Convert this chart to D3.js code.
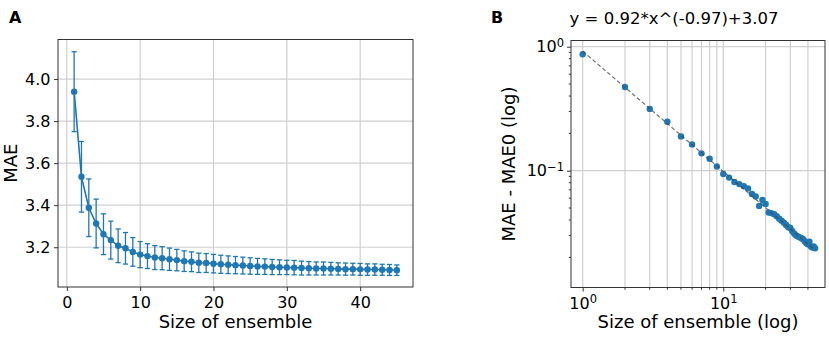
<!DOCTYPE html>
<html>
<head>
<meta charset="utf-8">
<script src="https://cdn.jsdelivr.net/npm/d3@7"></script>
<style>
    body { margin: 0; background: #fff; }
    svg { display: block; font-family: "DejaVu Sans", sans-serif; }
    .grid line { stroke: #d0d0d0; stroke-width: 1.2; }
    .axis path { display: none; }
    .axis line { stroke: #333; stroke-width: 1; }
    .axis text { font-size: 16px; fill: #000; font-family: "DejaVu Sans", sans-serif; }
    .frame { fill: none; stroke: #333; stroke-width: 1; }
    .label { font-size: 18px; fill: #000; }
    .panel { font-size: 16px; font-weight: bold; fill: #000; }
</style>
</head>
<body>
<svg id="chart" width="829" height="340"></svg>
<script>
// ensemble sizes (x for both panels)
const ensembleSize = [1, 2, 3, 4, 5, 6, 7, 8, 9, 10, 11, 12, 13, 14, 15, 16, 17, 18, 19, 20,
    21, 22, 23, 24, 25, 26, 27, 28, 29, 30, 31, 32, 33, 34, 35, 36, 37, 38, 39, 40,
    41, 42, 43, 44, 45];

// panel A: mean MAE and its error bar half-length
const maeMean = [3.940, 3.535, 3.388, 3.313, 3.262, 3.234, 3.207, 3.195, 3.178, 3.165,
    3.158, 3.151, 3.148, 3.143, 3.139, 3.134, 3.131, 3.126, 3.125, 3.122,
    3.119, 3.117, 3.115, 3.113, 3.111, 3.109, 3.108, 3.106, 3.105, 3.104,
    3.103, 3.101, 3.100, 3.099, 3.099, 3.098, 3.097, 3.096, 3.096, 3.095,
    3.094, 3.094, 3.093, 3.092, 3.091];
const maeErr = [0.190, 0.168, 0.137, 0.116, 0.097, 0.090, 0.080, 0.075, 0.068, 0.062,
    0.059, 0.057, 0.055, 0.053, 0.051, 0.049, 0.047, 0.046, 0.045, 0.044,
    0.043, 0.042, 0.041, 0.040, 0.039, 0.038, 0.037, 0.036, 0.035, 0.034,
    0.034, 0.033, 0.032, 0.031, 0.031, 0.030, 0.029, 0.029, 0.028, 0.028,
    0.027, 0.027, 0.026, 0.026, 0.025];

// panel B: MAE - MAE0 on log-log axes
const maeDiff = [0.869, 0.473, 0.315, 0.248, 0.189, 0.163, 0.138, 0.125, 0.108, 0.094,
    0.088, 0.081, 0.078, 0.075, 0.072, 0.065, 0.062, 0.052, 0.058, 0.054,
    0.046, 0.0455, 0.0445, 0.043, 0.041, 0.0395, 0.038, 0.0365, 0.035, 0.0345,
    0.0325, 0.031, 0.030, 0.0295, 0.029, 0.0285, 0.028, 0.027, 0.026, 0.0255,
    0.0267, 0.0245, 0.024, 0.0245, 0.0237];
const fitX = [1, 45];
const fitY = [0.92, 0.0229];
const fitTitle = 'y = 0.92*x^(-0.97)+3.07';

// ticks
const aXTicks = [0, 10, 20, 30, 40];
const aYTicks = [3.2, 3.4, 3.6, 3.8, 4.0];
const bXTicks = [1, 10];
const bXMinor = [2, 3, 4, 5, 6, 7, 8, 9, 20, 30, 40];
const bYTicks = [0.1, 1];
const bYMinor = [0.02, 0.03, 0.04, 0.05, 0.06, 0.07, 0.08, 0.09,
    0.2, 0.3, 0.4, 0.5, 0.6, 0.7, 0.8, 0.9];

const blue = '#1f77b4';
const svg = d3.select('#chart');

// ---------- panel A ----------
const a = {left: 58, right: 413, top: 39.5, bottom: 287};
const ax = d3.scaleLinear().domain([-1.2, 47.2]).range([a.left, a.right]);
const ay = d3.scaleLinear().domain([3.011, 4.188]).range([a.bottom, a.top]);

const gA = svg.append('g');

gA.append('g').attr('class', 'grid')
    .selectAll('line.v').data(aXTicks).join('line')
    .attr('x1', d => ax(d)).attr('x2', d => ax(d))
    .attr('y1', a.top).attr('y2', a.bottom);
gA.append('g').attr('class', 'grid')
    .selectAll('line.h').data(aYTicks).join('line')
    .attr('x1', a.left).attr('x2', a.right)
    .attr('y1', d => ay(d)).attr('y2', d => ay(d));

const pts = ensembleSize.map((x, i) => ({x: x, m: maeMean[i], e: maeErr[i]}));

const err = gA.append('g').attr('stroke', blue).attr('stroke-width', 1.3);
err.selectAll('line.bar').data(pts).join('line')
    .attr('x1', d => ax(d.x)).attr('x2', d => ax(d.x))
    .attr('y1', d => ay(d.m - d.e)).attr('y2', d => ay(d.m + d.e));
err.selectAll('line.capTop').data(pts).join('line')
    .attr('x1', d => ax(d.x) - 2.6).attr('x2', d => ax(d.x) + 2.6)
    .attr('y1', d => ay(d.m + d.e)).attr('y2', d => ay(d.m + d.e));
err.selectAll('line.capBot').data(pts).join('line')
    .attr('x1', d => ax(d.x) - 2.6).attr('x2', d => ax(d.x) + 2.6)
    .attr('y1', d => ay(d.m - d.e)).attr('y2', d => ay(d.m - d.e));

gA.append('path').datum(pts)
    .attr('fill', 'none').attr('stroke', blue).attr('stroke-width', 1.6)
    .attr('d', d3.line().x(d => ax(d.x)).y(d => ay(d.m)));

gA.selectAll('circle').data(pts).join('circle')
    .attr('cx', d => ax(d.x)).attr('cy', d => ay(d.m))
    .attr('r', 3.2).attr('fill', blue);

gA.append('g').attr('class', 'axis')
    .attr('transform', `translate(0,${a.bottom})`)
    .call(d3.axisBottom(ax).tickValues(aXTicks).tickSize(4).tickPadding(6).tickFormat(d3.format('d')));
gA.append('g').attr('class', 'axis')
    .attr('transform', `translate(${a.left},0)`)
    .call(d3.axisLeft(ay).tickValues(aYTicks).tickSize(4).tickPadding(3.5).tickFormat(d3.format('.1f')));

gA.append('rect').attr('class', 'frame')
    .attr('x', a.left).attr('y', a.top)
    .attr('width', a.right - a.left).attr('height', a.bottom - a.top);

gA.append('text').attr('class', 'label')
    .attr('x', (a.left + a.right) / 2).attr('y', 328)
    .attr('text-anchor', 'middle').text('Size of ensemble');
gA.append('text').attr('class', 'label')
    .attr('transform', `translate(17,${(a.top + a.bottom) / 2}) rotate(-90)`)
    .attr('text-anchor', 'middle').text('MAE');
gA.append('text').attr('class', 'panel').attr('x', 9).attr('y', 23).text('A');

// ---------- panel B ----------
const b = {left: 571, right: 825, top: 40.5, bottom: 287.5};
const bx = d3.scaleLog().domain([0.826, 52.9]).range([b.left, b.right]);
const by = d3.scaleLog().domain([0.01143, 1.122]).range([b.bottom, b.top]);

const gB = svg.append('g');

gB.append('g').attr('class', 'grid')
    .selectAll('line').data(bXTicks.concat(bXMinor)).join('line')
    .attr('x1', d => bx(d)).attr('x2', d => bx(d))
    .attr('y1', b.top).attr('y2', b.bottom);
gB.append('g').attr('class', 'grid')
    .selectAll('line').data(bYTicks).join('line')
    .attr('x1', b.left).attr('x2', b.right)
    .attr('y1', d => by(d)).attr('y2', d => by(d));

const diffPts = ensembleSize.map((x, i) => ({x: x, y: maeDiff[i]}));
gB.selectAll('circle').data(diffPts).join('circle')
    .attr('cx', d => bx(d.x)).attr('cy', d => by(d.y))
    .attr('r', 3.2).attr('fill', blue);

const fitPts = fitX.map((x, i) => ({x: x, y: fitY[i]}));
gB.append('path').datum(fitPts)
    .attr('fill', 'none').attr('stroke', '#444').attr('stroke-opacity', 0.75)
    .attr('stroke-width', 1.2).attr('stroke-dasharray', '4,2.5')
    .attr('d', d3.line().x(d => bx(d.x)).y(d => by(d.y)));

// 10^n labels with a raised exponent
function powerLabels(g) {
    g.selectAll('.tick text').each(function(d) {
        const e = Math.round(Math.log10(d));
        const t = d3.select(this).text(null);
        t.append('tspan').text('10');
        t.append('tspan').attr('dy', '-0.5em').attr('font-size', '11.5px')
            .text(e < 0 ? '\u2212' + (-e) : e);
    });
}

gB.append('g').attr('class', 'axis')
    .attr('transform', `translate(0,${b.bottom})`)
    .call(d3.axisBottom(bx).tickValues(bXTicks).tickSize(4).tickPadding(6))
    .call(powerLabels);
gB.append('g').attr('class', 'axis')
    .attr('transform', `translate(${b.left},0)`)
    .call(d3.axisLeft(by).tickValues(bYTicks).tickSize(4).tickPadding(3))
    .call(powerLabels);

// minor ticks
gB.append('g').attr('class', 'axis')
    .selectAll('line').data(bXMinor).join('line')
    .attr('x1', d => bx(d)).attr('x2', d => bx(d))
    .attr('y1', b.bottom).attr('y2', b.bottom + 2.2);
gB.append('g').attr('class', 'axis')
    .selectAll('line').data(bYMinor).join('line')
    .attr('x1', b.left).attr('x2', b.left - 2.2)
    .attr('y1', d => by(d)).attr('y2', d => by(d));

gB.append('rect').attr('class', 'frame')
    .attr('x', b.left).attr('y', b.top)
    .attr('width', b.right - b.left).attr('height', b.bottom - b.top);

gB.append('text').attr('class', 'label')
    .attr('x', (b.left + b.right) / 2).attr('y', 328)
    .attr('text-anchor', 'middle').text('Size of ensemble (log)');
gB.append('text').attr('class', 'label')
    .attr('transform', `translate(515,${(b.top + b.bottom) / 2}) rotate(-90)`)
    .attr('text-anchor', 'middle').text('MAE - MAE0 (log)');
gB.append('text').attr('class', 'label')
    .attr('x', 674).attr('y', 24).style('font-size', '16.5px')
    .attr('text-anchor', 'middle').text(fitTitle);
gB.append('text').attr('class', 'panel').attr('x', 491).attr('y', 23).text('B');
</script>
</body>
</html>
